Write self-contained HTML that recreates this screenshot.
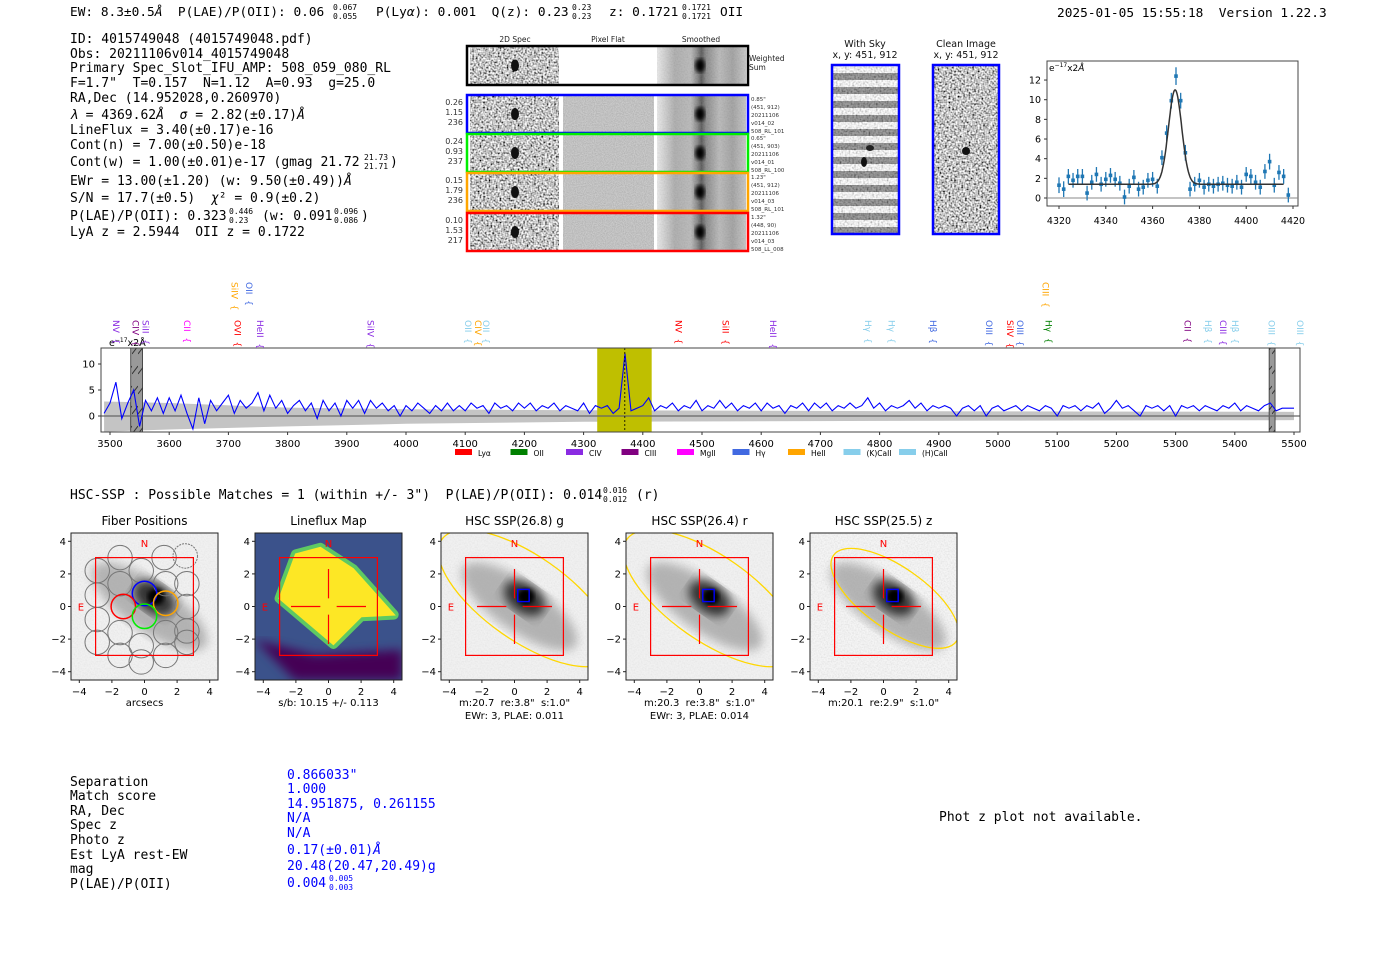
<!DOCTYPE html>
<html><head><meta charset="utf-8">
<style>
html,body{margin:0;padding:0;background:#fff;}
svg{display:block;}
text{white-space:pre;}
.m{font-family:"DejaVu Sans Mono","Liberation Mono",monospace;}
.s{font-family:"DejaVu Sans","Liberation Sans",sans-serif;}
</style></head>
<body>
<svg id="root" width="1400" height="953" viewBox="0 0 1400 953" xmlns="http://www.w3.org/2000/svg">
<defs>
<filter id="nz" x="0" y="0" width="1" height="1" filterUnits="objectBoundingBox">
<feTurbulence type="fractalNoise" baseFrequency="0.55" numOctaves="1" seed="3"/>
<feColorMatrix type="matrix" values="2.2 0 0 0 -0.55  2.2 0 0 0 -0.55  2.2 0 0 0 -0.55  0 0 0 0 1"/>
</filter>
<filter id="nzl" x="0" y="0" width="1" height="1">
<feTurbulence type="fractalNoise" baseFrequency="0.7" numOctaves="1" seed="7"/>
<feColorMatrix type="matrix" values="0.6 0 0 0 0.6  0.6 0 0 0 0.6  0.6 0 0 0 0.6  0 0 0 0 1"/>
</filter>
<filter id="nzf" x="0" y="0" width="1" height="1">
<feTurbulence type="fractalNoise" baseFrequency="0.9" numOctaves="1" seed="5"/>
<feColorMatrix type="matrix" values="0.3 0 0 0 0.38  0.3 0 0 0 0.38  0.3 0 0 0 0.38  0 0 0 0 1"/>
</filter>
<filter id="bl"><feGaussianBlur stdDeviation="2"/></filter>
<filter id="bl6"><feGaussianBlur stdDeviation="5"/></filter>
<linearGradient id="smooth" x1="0" x2="1" y1="0" y2="0">
<stop offset="0" stop-color="#ddd"/><stop offset="0.2" stop-color="#888"/><stop offset="0.38" stop-color="#999"/><stop offset="0.45" stop-color="#555"/><stop offset="0.5" stop-color="#111"/><stop offset="0.55" stop-color="#555"/><stop offset="0.7" stop-color="#999"/><stop offset="0.85" stop-color="#777"/><stop offset="1" stop-color="#aaa"/>
</linearGradient>
<pattern id="sky" width="10" height="14" patternUnits="userSpaceOnUse"><rect width="10" height="14" fill="#fff"/><rect y="3" width="10" height="7" fill="#777"/></pattern>
<pattern id="hatch" width="6" height="20" patternUnits="userSpaceOnUse"><rect width="6" height="20" fill="#999"/><line x1="0" y1="14" x2="6" y2="6" stroke="#333" stroke-width="1"/></pattern>
<clipPath id="specclip"><rect x="101" y="348" width="1199" height="84"/></clipPath>
<clipPath id="fitclip"><rect x="1047" y="61" width="251" height="145"/></clipPath>
</defs>

<text class="m" x="70" y="16" font-size="12.8">EW: 8.3±0.5<tspan font-style="italic">Å</tspan>  P(LAE)/P(OII): 0.06</text>
<text class="m" x="333" y="10" font-size="8">0.067</text>
<text class="m" x="333" y="19" font-size="8">0.055</text>
<text class="m" x="376" y="16" font-size="12.8">P(Ly<tspan font-style="italic">α</tspan>): 0.001  Q(z): 0.23</text>
<text class="m" x="572" y="10" font-size="8">0.23</text>
<text class="m" x="572" y="19" font-size="8">0.23</text>
<text class="m" x="609" y="16" font-size="12.8">z: 0.1721</text>
<text class="m" x="682" y="10" font-size="8">0.1721</text>
<text class="m" x="682" y="19" font-size="8">0.1721</text>
<text class="m" x="720" y="16" font-size="12.8">OII</text>
<text class="m" x="1057" y="17" font-size="12.8">2025-01-05 15:55:18  Version 1.22.3</text>

<g class="m" font-size="13">
<text x="70" y="43">ID: 4015749048 (4015749048.pdf)</text>
<text x="70" y="58">Obs: 20211106v014_4015749048</text>
<text x="70" y="72">Primary Spec_Slot_IFU_AMP: 508_059_080_RL</text>
<text x="70" y="87">F=1.7"  T=0.157  N=1.12  A=0.93  g=25.0</text>
<text x="70" y="102">RA,Dec (14.952028,0.260970)</text>
<text x="70" y="119"><tspan font-style="italic">λ</tspan> = 4369.62<tspan font-style="italic">Å</tspan>  <tspan font-style="italic">σ</tspan> = 2.82(±0.17)<tspan font-style="italic">Å</tspan></text>
<text x="70" y="134">LineFlux = 3.40(±0.17)e-16</text>
<text x="70" y="149">Cont(n) = 7.00(±0.50)e-18</text>
<text x="70" y="166">Cont(w) = 1.00(±0.01)e-17 (gmag 21.72</text>
<text x="364" y="160" font-size="8">21.73</text><text x="364" y="169" font-size="8">21.71</text><text x="390" y="166">)</text>
<text x="70" y="185">EWr = 13.00(±1.20) (w: 9.50(±0.49))<tspan font-style="italic">Å</tspan></text>
<text x="70" y="202">S/N = 17.7(±0.5)  <tspan font-style="italic">χ</tspan>² = 0.9(±0.2)</text>
<text x="70" y="220">P(LAE)/P(OII): 0.323</text>
<text x="229" y="214" font-size="8">0.446</text><text x="229" y="223" font-size="8">0.23</text>
<text x="262" y="220">(w: 0.091</text>
<text x="334" y="214" font-size="8">0.096</text><text x="334" y="223" font-size="8">0.086</text><text x="361" y="220">)</text>
<text x="70" y="236">LyA z = 2.5944  OII z = 0.1722</text>
</g>

<g class="s" font-size="7.5" fill="#222">
<text x="515" y="42" text-anchor="middle">2D Spec</text>
<text x="608" y="42" text-anchor="middle">Pixel Flat</text>
<text x="701" y="42" text-anchor="middle">Smoothed</text>
<text x="749" y="61" font-size="7.5">Weighted</text><text x="749" y="70" font-size="7.5">Sum</text>
</g>
<g id="cutouts"></g>

<g class="s" font-size="9.5" text-anchor="middle" fill="#111">
<text x="865" y="47">With Sky</text><text x="865" y="58">x, y: 451, 912</text>
<text x="966" y="47">Clean Image</text><text x="966" y="58">x, y: 451, 912</text>
</g>
<g>
<rect x="832" y="65" width="67" height="169" fill="url(#sky)"/>
<rect x="832" y="65" width="67" height="169" filter="url(#nz)" opacity="0.3"/>
<ellipse cx="864" cy="162" rx="3" ry="5" fill="#111"/><ellipse cx="870" cy="148" rx="4" ry="3" fill="#222"/>
<rect x="832" y="65" width="67" height="169" fill="none" stroke="#00f" stroke-width="2.5"/>
</g>
<g>
<rect x="933" y="65" width="66" height="169" filter="url(#nz)"/>
<ellipse cx="966" cy="151" rx="4" ry="4" fill="#111"/>
<rect x="933" y="65" width="66" height="169" fill="none" stroke="#00f" stroke-width="2.5"/>
</g>

<g id="fit">
<rect x="1047" y="61" width="251" height="145" fill="#fff" stroke="#444" stroke-width="1"/>
<text class="s" x="1049" y="71" font-size="9">e<tspan font-size="6" dy="-4">−17</tspan><tspan dy="4">x2</tspan><tspan font-style="italic">Å</tspan></text>
</g>

<g id="spec">
<rect x="101" y="348" width="1199" height="84" fill="#fff"/>
</g>

<text class="m" x="70" y="499" font-size="13">HSC-SSP : Possible Matches = 1 (within +/- 3")  P(LAE)/P(OII): 0.014</text>
<text class="m" x="603" y="493" font-size="8">0.016</text>
<text class="m" x="603" y="502" font-size="8">0.012</text>
<text class="m" x="636" y="499" font-size="13">(r)</text>
<g id="panels"></g>

<g class="m" font-size="13">
<text x="70" y="786">Separation</text><text x="70" y="800">Match score</text><text x="70" y="815">RA, Dec</text>
<text x="70" y="829">Spec z</text><text x="70" y="844">Photo z</text><text x="70" y="859">Est LyA rest-EW</text>
<text x="70" y="873">mag</text><text x="70" y="888">P(LAE)/P(OII)</text>
</g>
<g class="m" font-size="13" fill="#00f">
<text x="287" y="779">0.866033"</text><text x="287" y="793">1.000</text><text x="287" y="808">14.951875, 0.261155</text>
<text x="287" y="822">N/A</text><text x="287" y="837">N/A</text><text x="287" y="854">0.17(±0.01)<tspan font-style="italic">Å</tspan></text>
<text x="287" y="870">20.48(20.47,20.49)g</text><text x="287" y="887">0.004</text>
<text x="329" y="881" font-size="8">0.005</text><text x="329" y="890" font-size="8">0.003</text>
</g>
<text class="m" x="939" y="821" font-size="13">Phot z plot not available.</text>
</svg>

<script>
const fitWave = [4320,4322,4324,4326,4328,4330,4332,4334,4336,4338,4340,4342,4344,4346,4348,4350,4352,4354,4356,4358,4360,4362,4364,4366,4368,4370,4372,4374,4376,4378,4380,4382,4384,4386,4388,4390,4392,4394,4396,4398,4400,4402,4404,4406,4408,4410,4412,4414,4416,4418];
const fitFlux = [1.3,0.9,2.2,1.8,2.2,2.2,0.5,1.6,2.4,1.4,1.9,2.3,1.9,1.5,0.1,1.2,2.1,0.9,1.1,1.8,1.9,1.2,4.1,6.6,9.9,12.4,9.9,4.6,0.9,1.4,1.8,1.1,1.4,1.2,1.4,1.5,1.3,1.2,1.6,1.1,2.4,2.2,1.6,1.1,2.7,3.7,1.3,2.6,2.2,0.3];
const fitErr = [0.8,0.8,0.75,0.75,0.75,0.75,0.75,0.75,0.75,0.75,0.75,0.75,0.75,0.75,0.75,0.75,0.75,0.75,0.75,0.75,0.75,0.75,0.75,0.8,0.8,0.9,0.8,0.8,0.75,0.75,0.75,0.75,0.75,0.75,0.75,0.75,0.75,0.75,0.75,0.75,0.75,0.75,0.75,0.75,0.75,0.8,0.75,0.75,0.75,0.75];
const fitModel = {center:4369.62, sigma:2.82, amp:9.6, cont:1.4, lo:4324, hi:4416};
const fitXTicks = [4320,4340,4360,4380,4400,4420];
const fitYTicks = [0,2,4,6,8,10,12];

const specStart = 3490, specStep = 10;
const specFlux = [0.5,2.5,6.5,-0.5,2.5,5.0,-2.0,3.0,1.0,3.5,0.5,3.5,1.0,4.0,0.5,-2.5,3.5,-1.5,3.0,1.0,2.5,4.0,0.5,3.0,1.5,2.5,4.5,1.0,4.0,1.5,3.0,0.5,2.0,3.0,1.0,2.5,-0.5,3.0,1.0,2.5,0.0,3.0,1.5,3.0,0.5,3.0,1.5,2.5,1.0,2.0,0.0,2.0,1.0,2.5,1.5,0.5,2.0,1.0,2.5,1.0,2.0,1.0,2.5,1.5,2.0,0.5,2.5,1.5,2.0,1.0,2.5,1.5,2.5,1.0,2.0,1.5,2.5,1.0,2.0,1.5,1.0,2.5,0.5,2.0,1.5,2.0,0.5,1.5,12.0,1.0,1.5,2.0,3.5,1.0,2.0,1.5,2.5,1.0,2.0,1.5,3.0,1.0,2.0,1.5,3.0,1.5,2.5,1.0,2.0,1.5,2.5,1.0,2.5,1.5,2.0,0.5,2.0,1.5,2.5,1.0,2.5,1.5,2.5,1.0,2.0,1.5,2.5,1.5,2.0,3.5,1.5,2.5,1.0,2.0,1.5,2.0,3.0,1.5,2.5,1.0,2.0,1.5,2.0,1.5,0.0,1.5,2.0,1.0,2.0,0.0,1.5,2.0,1.0,1.5,2.0,1.0,2.0,1.5,1.0,2.0,1.5,0.0,2.0,1.5,2.0,1.0,2.0,1.5,2.5,0.5,1.5,3.0,1.5,2.0,1.0,0.0,2.0,1.5,2.0,1.0,2.0,0.0,2.0,1.5,2.0,1.0,2.0,1.5,1.0,2.0,1.5,2.5,1.0,2.0,1.5,1.0,2.0,2.5,1.0,1.5,1.5,1.5];
const errWave = [3490,3600,3800,4000,4300,4600,5000,5500];
const errHi = [2.8,2.5,1.6,1.3,1.1,1.0,0.9,0.8];
const errLo = [-3.0,-2.6,-2.0,-1.5,-1.1,-1.0,-0.9,-0.8];
const specXTicks = [3500,3600,3700,3800,3900,4000,4100,4200,4300,4400,4500,4600,4700,4800,4900,5000,5100,5200,5300,5400,5500];
const specYTicks = [0,5,10];
const fitWindow = [4323,4415];
const badRegions = [[3535,3555],[5458,5468]];
const lineWave = [3510,3543,3560,3630,3715,3753,3940,4105,4122,4135,4460,4540,4620,4780,4820,4890,4985,5020,5037,5085,5320,5355,5380,5400,5462,5510,3710,3735,5080];
const lineName = ['NV','CIV','SiII','CII','OVI','HeII','SiIV','OII','CIV','OII','NV','SiII','HeII','Hγ','Hγ','Hβ','OIII','SiIV','OIII','Hγ','CII','Hβ','CIII','Hβ','OIII','OIII','SiIV','OII','CIII'];
const lineColor = ['#8a2be2','#800080','#8a2be2','#ff00ff','#ff0000','#8a2be2','#8a2be2','#87ceeb','#ffa500','#87ceeb','#ff0000','#ff0000','#8a2be2','#87ceeb','#87ceeb','#4169e1','#4169e1','#ff0000','#4169e1','#008000','#800080','#87ceeb','#8a2be2','#87ceeb','#87ceeb','#87ceeb','#ffa500','#4169e1','#ffa500'];
const lineRow = [1,1,1,1,1,1,1,1,1,1,1,1,1,1,1,1,1,1,1,1,1,1,1,1,1,1,0,0,0];
const legendNames = ['Lyα','OII','CIV','CIII','MgII','Hγ','HeII','(K)CaII','(H)CaII'];
const legendColors = ['#ff0000','#008000','#8a2be2','#800080','#ff00ff','#4169e1','#ffa500','#87ceeb','#87ceeb'];

const NS='http://www.w3.org/2000/svg';
function mk(tag, attrs, parent, txt){const e=document.createElementNS(NS,tag);for(const k in attrs)e.setAttribute(k,attrs[k]);if(txt!==undefined)e.textContent=txt;parent.appendChild(e);return e;}

// line fit
const fit=document.getElementById('fit');
const fx=w=>1059+(w-4320)*2.34, fy=v=>198-v*9.83;
const fitClip=mk('g',{'clip-path':'url(#fitclip)'},fit);
let zl=mk('line',{x1:1047,x2:1298,y1:fy(0),y2:fy(0),stroke:'#888','stroke-width':1},fitClip);


for(let i=0;i<fitWave.length;i++){
  const g=mk('g',{},fitClip);
  
  
  mk('line',{x1:fx(fitWave[i]),x2:fx(fitWave[i]),y1:fy(fitFlux[i]-fitErr[i]),y2:fy(fitFlux[i]+fitErr[i]),stroke:'#1f77b4','stroke-width':1.3},g);
  mk('rect',{x:fx(fitWave[i])-1.8,y:fy(fitFlux[i])-1.8,width:3.6,height:3.6,fill:'#1f77b4'},g);
}
let mp='';
for(let w=fitModel.lo;w<=fitModel.hi;w+=0.25){const v=fitModel.cont+fitModel.amp*Math.exp(-0.5*((w-fitModel.center)/fitModel.sigma)**2);mp+=(mp?'L':'M')+fx(w).toFixed(1)+','+fy(v).toFixed(1);}
let mline=mk('path',{d:mp,fill:'none',stroke:'#333','stroke-width':1.5},fitClip);


fitXTicks.forEach(t=>{mk('line',{x1:fx(t),x2:fx(t),y1:206,y2:209,stroke:'#333'},fit);const tx=mk('text',{x:fx(t),y:224,'font-size':9.5,'text-anchor':'middle','class':'s'},fit,String(t));});
fitYTicks.forEach(t=>{mk('line',{x1:1044,x2:1047,y1:fy(t),y2:fy(t),stroke:'#333'},fit);const tx=mk('text',{x:1041,y:fy(t)+3.5,'font-size':9.5,'text-anchor':'end','class':'s'},fit,String(t));});

// spectrum
const spec=document.getElementById('spec');
const sx=w=>110+(w-3500)*0.592, sy=f=>416-f*5.2;
const sc=mk('g',{'clip-path':'url(#specclip)'},spec);
let band='';
errWave.forEach((w,i)=>{band+=(i?'L':'M')+sx(w)+','+sy(errHi[i]);});
for(let i=errWave.length-1;i>=0;i--)band+='L'+sx(errWave[i])+','+sy(errLo[i]);
let bp=mk('path',{d:band+'Z',fill:'#c4c4c4'},sc);


let win=mk('rect',{x:sx(fitWindow[0]),y:348,width:sx(fitWindow[1])-sx(fitWindow[0]),height:84,fill:'#bfbf00'},sc);


badRegions.forEach(r=>{const b=mk('rect',{x:sx(r[0]),y:348,width:sx(r[1])-sx(r[0]),height:84,fill:'url(#hatch)',stroke:'#333','stroke-width':0.8},sc);});
let z0=mk('line',{x1:101,x2:1300,y1:sy(0),y2:sy(0),stroke:'#666','stroke-width':1.2},sc);


let sp='';
specFlux.forEach((f,i)=>{sp+=(i?'L':'M')+sx(specStart+i*specStep).toFixed(1)+','+sy(f).toFixed(1);});
let sl=mk('path',{d:sp,fill:'none',stroke:'#0000ff','stroke-width':1.1},sc);


let cl=mk('line',{x1:sx(4369.6),x2:sx(4369.6),y1:348,y2:432,stroke:'#000','stroke-width':0.8,'stroke-dasharray':'2,2'},sc);


let fr=mk('rect',{x:101,y:348,width:1199,height:84,fill:'none',stroke:'#444'},spec);


specXTicks.forEach(t=>{mk('line',{x1:sx(t),x2:sx(t),y1:432,y2:435,stroke:'#333'},spec);const tx=mk('text',{x:sx(t),y:447,'font-size':10,'text-anchor':'middle','class':'s'},spec,String(t));});
specYTicks.forEach(t=>{mk('line',{x1:98,x2:101,y1:sy(t),y2:sy(t),stroke:'#333'},spec);const tx=mk('text',{x:95,y:sy(t)+3.5,'font-size':10,'text-anchor':'end','class':'s'},spec,String(t));});
let su=mk('text',{x:109,y:346,'font-size':9.5,'class':'s'},spec);
mk('tspan',{},su,'e');
mk('tspan',{'font-size':6,dy:-4},su,'−17');
mk('tspan',{dy:4},su,'x2Å');


lineWave.forEach((w,i)=>{
  const y0=lineRow[i]?320:282;
  const t=mk('text',{x:0,y:0,'font-size':9,'class':'s',fill:lineColor[i],transform:'translate('+(sx(w)-3)+','+y0+') rotate(90)'},spec,lineName[i]+'  {');
  
  
});
legendNames.forEach((n,i)=>{
  const x=455+i*55.5;
  const g=mk('g',{},spec);
  
  
  mk('rect',{x:x,y:449,width:17,height:6,fill:legendColors[i]},g);
  mk('text',{x:x+23,y:456,'font-size':7.5,'class':'s'},g,n);
});

// cutouts
const cg=document.getElementById('cutouts');
const rowY=[95,134,173,213], rowC=['#0000ff','#00ee00','#ffa500','#ff0000'];
const rowL=[['0.26','1.15','236'],['0.24','0.93','237'],['0.15','1.79','236'],['0.10','1.53','217']];
const rowR=[['0.85"','(451, 912)','20211106','v014_02','508_RL_101'],['0.65"','(451, 903)','20211106','v014_01','508_RL_100'],['1.23"','(451, 912)','20211106','v014_03','508_RL_101'],['1.32"','(448, 90)','20211106','v014_03','508_LL_008']];
function cut(y,h,flat,col,name){
  const g=mk('g',{},cg);
  
  
  mk('rect',{x:470,y:y,width:89,height:h,filter:'url(#nz)'},g);
  mk('ellipse',{cx:515,cy:y+h/2,rx:4,ry:6,fill:'#111'},g);
  if(flat) mk('rect',{x:563,y:y,width:91,height:h,filter:'url(#nzf)'},g);
  mk('rect',{x:657,y:y,width:89,height:h,fill:'url(#smooth)'},g);
  mk('rect',{x:657,y:y,width:89,height:h,filter:'url(#nzl)',opacity:0.35},g);
  mk('ellipse',{cx:700,cy:y+h/2,rx:5,ry:7,fill:'#000',filter:'url(#bl)'},g);
  mk('rect',{x:467,y:y-1,width:281,height:h+2,fill:'none',stroke:col,'stroke-width':2.5},g);
}
cut(47,37,false,'#000','weighted-sum-cutout');
rowY.forEach((y,i)=>{
  cut(y+1,36,true,rowC[i],'exposure-cutout');
  rowL[i].forEach((t,j)=>{const tx=mk('text',{x:463,y:y+10+j*10,'font-size':8,'text-anchor':'end','class':'s',fill:'#333'},cg,t);});
  rowR[i].forEach((t,j)=>{const tx=mk('text',{x:751,y:y+6+j*8,'font-size':5.5,'class':'s',fill:'#333'},cg,t);});
});

// imaging panels
const panelLeft=[71,255,441,626,810];
const panelTitle=['Fiber Positions','Lineflux Map','HSC SSP(26.8) g','HSC SSP(26.4) r','HSC SSP(25.5) z'];
const panelSub1=['arcsecs','s/b: 10.15 +/- 0.113','m:20.7  re:3.8"  s:1.0"','m:20.3  re:3.8"  s:1.0"','m:20.1  re:2.9"  s:1.0"'];
const panelSub2=['','','EWr: 3, PLAE: 0.011','EWr: 3, PLAE: 0.014',''];
const ellA=[0,0,6.3,6.3,4.6], ellB=[0,0,2.6,2.6,1.9];
const fiberX=[-1.5,1.2,2.5,-2.9,-0.2,2.6,-2.9,-1.5,1.3,2.6,-2.9,2.6,-1.5,1.3,-2.9,-0.2,2.6,-1.5,1.3,-0.2];
const fiberY=[3.0,3.0,3.1,2.2,2.2,1.4,0.7,1.4,1.4,0,-0.8,-1.5,-1.6,-1.6,-2.2,-2.4,-2.2,-3.0,-3.0,-3.4];
const pn=document.getElementById('panels');
const U=16.3, CY=606.5;
panelLeft.forEach((L,i)=>{
  const cx=L+73.5, X=a=>cx+a*U, Y=b=>CY-b*U;
  const g=mk('g',{},pn);
  
  
  const cp=mk('clipPath',{id:'pc'+i},g); mk('rect',{x:L,y:533,width:147,height:147},cp);
  const c=mk('g',{'clip-path':'url(#pc'+i+')'},g);
  if(i===1){
    mk('rect',{x:L,y:533,width:147,height:147,fill:'#3b528b'},c);
    mk('polygon',{points:L+',640 '+(L+40)+',680 '+(L+147)+',680 '+(L+147)+',650 '+(L+60)+',655',fill:'#440154',filter:'url(#bl6)'},c);
    const pts=[[-2,3.2],[-0.5,3.6],[1.5,2.3],[4,-0.5],[2,-0.6],[0.3,-2.3],[-3,0.5]].map(p=>X(p[0])+','+Y(p[1])).join(' ');
    mk('polygon',{points:pts,fill:'#21918c',stroke:'#5ec962','stroke-width':10,'stroke-linejoin':'round'},c);
    mk('polygon',{points:pts,fill:'#fde725',stroke:'#fde725','stroke-width':2},c);
  } else {
    mk('rect',{x:L,y:533,width:147,height:147,fill:'#ececec'},c);
    mk('rect',{x:L,y:533,width:147,height:147,filter:'url(#nzl)',opacity:i===4?0.5:0.3},c);
    mk('ellipse',{cx:X(0.3),cy:Y(0),rx:4.2*U,ry:1.5*U,fill:'#9a9a9a',opacity:0.7,filter:'url(#bl6)',transform:'rotate(35 '+X(0.3)+' '+Y(0)+')'},c);
    mk('ellipse',{cx:X(0.6),cy:Y(0.5),rx:1.4*U,ry:0.9*U,fill:'#333',filter:'url(#bl6)',transform:'rotate(35 '+X(0.6)+' '+Y(0.5)+')'},c);
    mk('ellipse',{cx:X(0.7),cy:Y(0.6),rx:0.5*U,ry:0.5*U,fill:'#000',filter:'url(#bl)'},c);
  }
  if(i===0){
    fiberX.forEach((fxv,k)=>{const f=mk('circle',{cx:X(fxv),cy:Y(fiberY[k]),r:0.75*U,fill:'none',stroke:'#777','stroke-width':1,'stroke-dasharray':k===2?'2,1':'none'},c);});
    [[0,0.8,'#00f'],[-1.3,0,'#f00'],[1.3,0.2,'#ffa500'],[0,-0.6,'#0e0']].forEach(p=>{const f=mk('circle',{cx:X(p[0]),cy:Y(p[1]),r:0.75*U,fill:'none',stroke:p[2],'stroke-width':1.5},c);});
  }
  if(i>=2){
    const el=mk('ellipse',{cx:X(0.7),cy:Y(0.5),rx:ellA[i]*U,ry:ellB[i]*U,fill:'none',stroke:'#ffd700','stroke-width':1.3,transform:'rotate(35 '+X(0.7)+' '+Y(0.5)+')'},c);
    
    
    const bx=mk('rect',{x:X(0.2),y:Y(1.05),width:0.7*U,height:0.75*U,fill:'none',stroke:'#00f','stroke-width':1.4},c);
    
    
  }
  mk('rect',{x:X(-3),y:Y(3),width:6*U,height:6*U,fill:'none',stroke:'#f00','stroke-width':1.2},c);
  if(i>0){
    [[-2.3,0,-0.5,0],[0.5,0,2.3,0],[0,2.3,0,0.5],[0,-0.5,0,-2.3]].forEach(s=>mk('line',{x1:X(s[0]),y1:Y(s[1]),x2:X(s[2]),y2:Y(s[3]),stroke:'#f00','stroke-width':1.2},c));
  }
  mk('text',{x:X(0),y:Y(3.9)+4,'font-size':10,'text-anchor':'middle','class':'s',fill:'#f00'},c,'N');
  mk('text',{x:X(-3.9),y:Y(0)+4,'font-size':10,'text-anchor':'middle','class':'s',fill:'#f00'},c,'E');
  mk('rect',{x:L,y:533,width:147,height:147,fill:'none',stroke:'#222','stroke-width':1},g);
  [-4,-2,0,2,4].forEach(t=>{
    mk('line',{x1:X(t),x2:X(t),y1:680,y2:683,stroke:'#222'},g);
    mk('text',{x:X(t),y:695,'font-size':10,'text-anchor':'middle','class':'s'},g,t<0?'−'+(-t):String(t));
    mk('line',{x1:L-3,x2:L,y1:Y(t),y2:Y(t),stroke:'#222'},g);
    mk('text',{x:L-5,y:Y(t)+3.5,'font-size':10,'text-anchor':'end','class':'s'},g,t<0?'−'+(-t):String(t));
  });
  const tt=mk('text',{x:cx,y:525,'font-size':12,'text-anchor':'middle','class':'s'},g,panelTitle[i]);
  
  
  mk('text',{x:cx,y:706,'font-size':10,'text-anchor':'middle','class':'s'},g,panelSub1[i]);
  if(panelSub2[i]) mk('text',{x:cx,y:719,'font-size':10,'text-anchor':'middle','class':'s'},g,panelSub2[i]);
});
</script>
</body></html>
